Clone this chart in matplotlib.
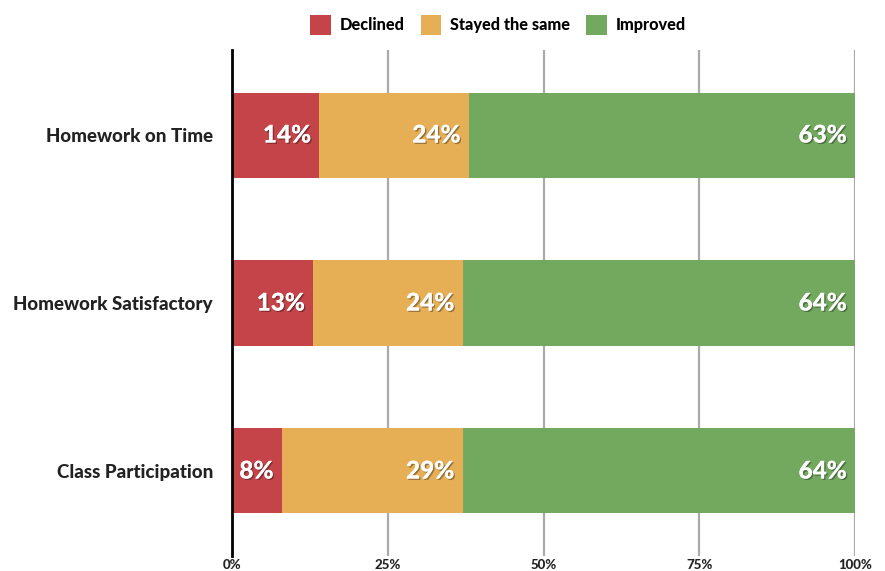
import matplotlib
matplotlib.use("Agg")
import matplotlib.pyplot as plt
import matplotlib.patheffects as pe
from matplotlib.patches import Patch

categories = ["Homework on Time", "Homework Satisfactory", "Class Participation"]
series_names = ["Declined", "Stayed the same", "Improved"]
declined = [14, 13, 8]
stayed = [24, 24, 29]
improved = [63, 64, 64]
tick_values = [0, 25, 50, 75, 100]
tick_labels = ["0%", "25%", "50%", "75%", "100%"]

colors = ["#C5444A", "#E6AF55", "#73A95E"]
FONT = "Lato"

fig = plt.figure(figsize=(8.85, 5.71), dpi=100)
ax = fig.add_axes([232 / 885, 1 - 556 / 571, 623 / 885, 506 / 571])

ypos = list(range(len(categories)))
shadow = [pe.withSimplePatchShadow(offset=(1, -1), shadow_rgbFace="black", alpha=0.35), pe.Normal()]

left = [0] * len(categories)
for vals, color in zip([declined, stayed, improved], colors):
    ax.barh(ypos, vals, left=left, height=0.506, color=color, zorder=3)
    for y, l, v in zip(ypos, left, vals):
        end = min(l + v, 100)
        ax.annotate(f"{v}%", xy=(end, y), xytext=(-6, 0), textcoords="offset points",
                    ha="right", va="center", color="white", fontsize=17.5,
                    fontweight="black", family=FONT, zorder=5, path_effects=shadow)
    left = [a + b for a, b in zip(left, vals)]

ax.set_xlim(0, 100)
ax.set_ylim(2.506, -0.506)
ax.set_xticks(tick_values)
ax.set_xticklabels(tick_labels, fontsize=9.5, fontweight="black", family=FONT, color="#222222")
ax.set_yticks(ypos)
ax.set_yticklabels(categories, fontsize=13.5, fontweight="black", family=FONT, color="#222222")
ax.tick_params(axis="both", length=0)
ax.tick_params(axis="x", pad=2.5)
ax.tick_params(axis="y", pad=13.7)

for x in tick_values[1:]:
    ax.axvline(x, color="#AAAAAA", linewidth=1.6, zorder=1)

for s in ["top", "right", "bottom"]:
    ax.spines[s].set_visible(False)
ax.spines["left"].set_color("black")
ax.spines["left"].set_linewidth(2)
ax.spines["left"].set_zorder(4)

handles = [Patch(facecolor=c, edgecolor="none") for c in colors]
fig.legend(handles, series_names, loc="center", bbox_to_anchor=(498 / 885, 1 - 25 / 571),
           ncol=3, frameon=False, handlelength=1.25, handleheight=1.6, handletextpad=0.55,
           columnspacing=1.0, prop={"family": FONT, "weight": "black", "size": 11.7})

fig.savefig("out.png", dpi=100)
